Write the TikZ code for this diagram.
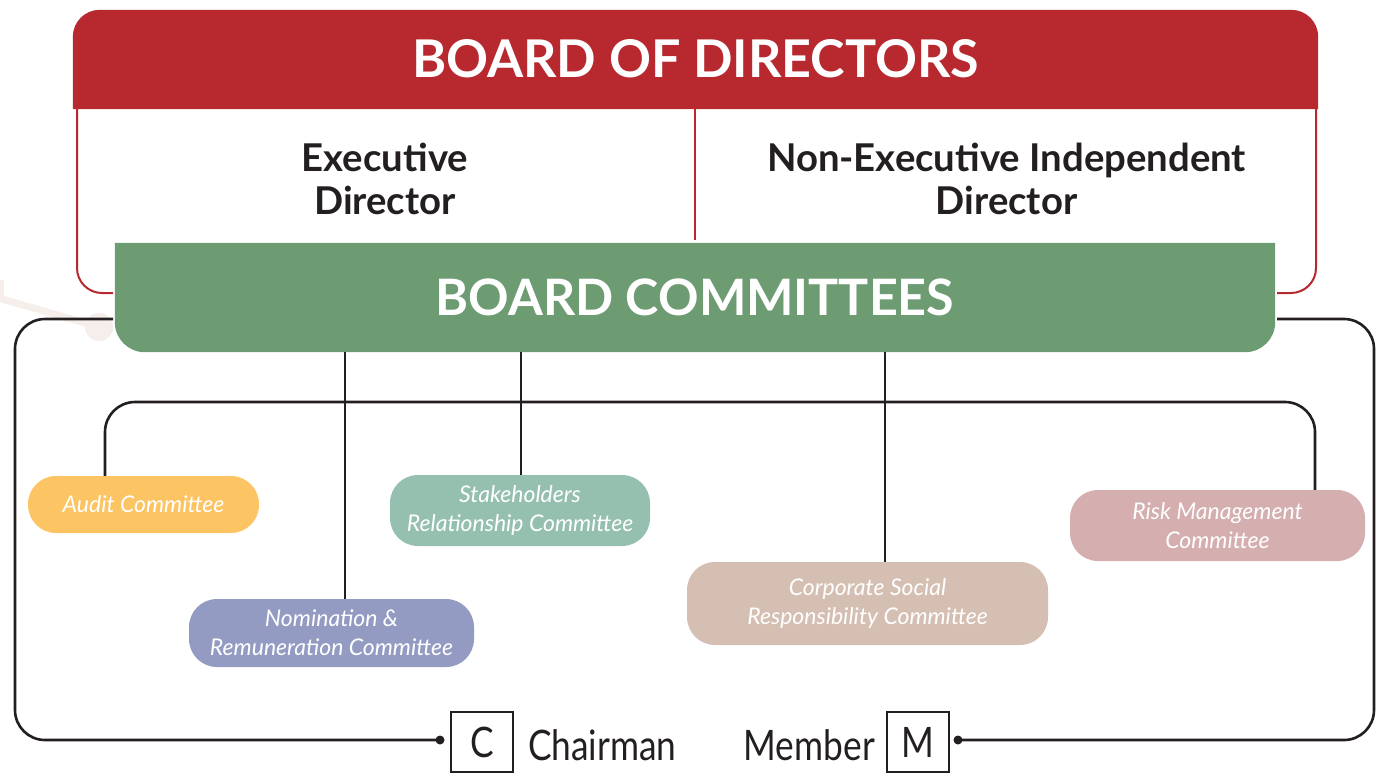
\documentclass[tikz,border=0pt]{standalone}
\usepackage{fontspec}
\setmainfont{Lato}
\newfontfamily\legendfont[FakeStretch=0.84]{Lato}
\usetikzlibrary{backgrounds}
\definecolor{bodred}{HTML}{B8292F}
\definecolor{bcgreen}{HTML}{6E9C72}
\definecolor{inkdark}{HTML}{231F20}
\definecolor{audc}{HTML}{FDC463}
\definecolor{stkc}{HTML}{95C0B0}
\definecolor{nomc}{HTML}{939BC3}
\definecolor{csrc}{HTML}{D5BFB2}
\definecolor{riskc}{HTML}{D5AEAF}
\definecolor{faintc}{HTML}{F5EEEA}
\tikzset{
  comm/.style={rounded corners=28pt, text=white, align=center, inner sep=0pt,
    font=\itshape\fontsize{23}{29}\selectfont},
  link/.style={draw=inkdark, line width=2.6pt},
  redline/.style={draw=bodred, line width=2pt},
  dirtext/.style={text=inkdark, align=center, font=\bfseries\fontsize{38.3}{43}\selectfont},
  bigtitle/.style={text=white, font=\bfseries\fontsize{52}{60}\selectfont},
  legbox/.style={draw=inkdark, line width=1.6pt, minimum width=62pt, minimum height=60pt,
    inner sep=0pt, text=inkdark, font=\legendfont\fontsize{42}{48}\selectfont},
  legtext/.style={text=inkdark, inner sep=0pt, font=\legendfont\fontsize{42}{48}\selectfont},
  dot/.style={circle, fill=inkdark, minimum size=9pt, inner sep=0pt}
}
\begin{document}
\begin{tikzpicture}[x=1pt, y=-1pt]
\useasboundingbox (0,0) rectangle (1376,772);
\clip (0,0) rectangle (1376,772);

% faint background decoration
\draw[faintc, line width=7pt] (-5,297) -- (99,327);
\draw[faintc, line width=5pt] (1,280) -- (1,300);
\fill[faintc] (99,327) circle (14);

% red outline of the board box
\draw[redline, rounded corners=25pt] (77,109) -- (77,293) -- (113,293);
\draw[redline, rounded corners=25pt] (1316,109) -- (1316,293) -- (1277,293);
\draw[redline] (695,109) -- (695,240);

% header
\node[bigtitle, minimum width=1245pt, minimum height=99pt, inner sep=0pt] (bod) at (695.5,59.5) {\raisebox{1.5pt}{BOARD OF DIRECTORS}};
\begin{scope}[on background layer]
\fill[white] (0,0) rectangle (1376,772);
\fill[bodred] (bod.south west) [rounded corners=27pt] -- (bod.north west) -- (bod.north east) [sharp corners] -- (bod.south east) -- cycle;
\end{scope}

\node[dirtext] (exec) at (385,179) {Executive\\Director};
\node[dirtext] (nonexec) at (1006.5,179) {Non-Executive Independent\\Director};

% outer black frame
\coordinate (dotL) at (440,740);
\coordinate (dotR) at (958,740);
\draw[link, rounded corners=30pt] (113,319) -- (15,319) -- (15,740) -- (dotL);
\draw[link, rounded corners=30pt] (1277,319) -- (1374,319) -- (1374,740) -- (dotR);
\node[dot] at (dotL) {};
\node[dot] at (dotR) {};

% board committees
\node[bigtitle, font=\bfseries\fontsize{50.2}{58}\selectfont, minimum width=1160pt, minimum height=109pt, inner sep=0pt] (bc) at (695,297.5) {BOARD COMMITTEES};
\begin{scope}[on background layer]
\fill[bcgreen] (bc.north west) [rounded corners=30pt] -- (bc.south west) -- (bc.south east) [sharp corners] -- (bc.north east) -- cycle;
\end{scope}

% committees
\node[comm, fill=audc, minimum width=231pt, minimum height=57pt] (aud) at (143.5,504.5) {Audit Committee};
\node[comm, fill=stkc, minimum width=260pt, minimum height=71pt] (stk) at (520,510.5) {Stakeholders\\Relationship Committee};
\node[comm, fill=nomc, minimum width=285pt, minimum height=68pt] (nom) at (331.5,633) {Nomination \&\\Remuneration Committee};
\node[comm, fill=csrc, minimum width=361pt, minimum height=83pt] (csr) at (867.5,603.5) {Corporate Social\\Responsibility Committee};
\node[comm, fill=riskc, minimum width=295pt, minimum height=71pt] (risk) at (1217.5,525.5) {Risk Management\\Committee};

% connectors
\coordinate (gNom) at (345,352);
\coordinate (gStk) at (521,352);
\coordinate (gCsr) at (885,352);
\draw[link] (gNom) -- (gNom |- nom.north);
\draw[link] (gStk) -- (gStk |- stk.north);
\draw[link] (gCsr) -- (gCsr |- csr.north);
\coordinate (busL) at (105,402);
\coordinate (busR) at (1315,402);
\draw[link, rounded corners=30pt] (busL |- aud.north) -- (busL) -- (busR) -- (busR |- risk.north);

% legend
\node[legbox] (cbox) at (482,742) {C};
\node[legtext, anchor=base west] (chair) at (528,760) {Chairman};
\node[legbox] (mbox) at (918,742) {M};
\node[legtext, anchor=base east] (memb) at (875,760) {Member};
\end{tikzpicture}
\end{document}
